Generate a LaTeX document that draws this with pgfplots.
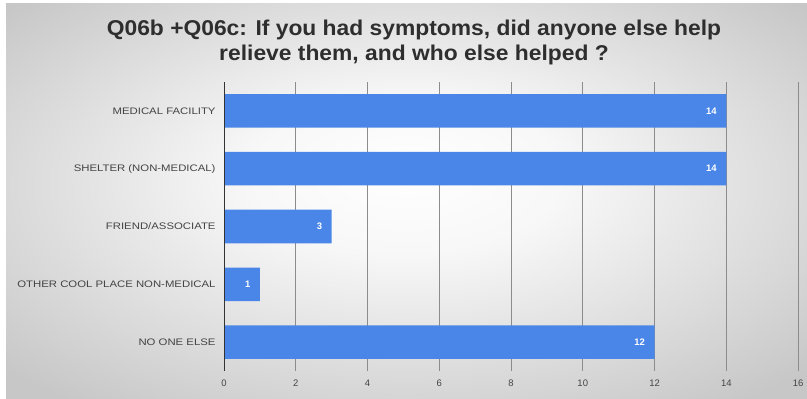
\documentclass[border=0pt]{standalone}
\usepackage{pgfplots}
\pgfplotsset{compat=1.18}
\usepackage{fontspec}
\setmainfont{Liberation Sans}
\definecolor{barblue}{HTML}{4A86E8}
\definecolor{labeltext}{HTML}{444444}
\definecolor{titletext}{HTML}{2E2E2E}
\pgfdeclareradialshading{panelshade}{\pgfpoint{0bp}{4bp}}{%
  color(0bp)=(white); color(10bp)=(white!97!black);
  color(34bp)=(black!22); color(50bp)=(black!22)}
\begin{document}
\begin{tikzpicture}
  \begin{scope}[x=1bp,y=1bp]
    \path[use as bounding box] (0,0) rectangle (807,398);
    % page and panel background
    \fill[white] (0,0) rectangle (807,398);
    \shade[shading=panelshade] (6,0) rectangle (807,394);
    % title, two lines
    \node[font=\bfseries\fontsize{21.5}{24}\selectfont, text=titletext, anchor=base, xscale=1.066]
      at (414,363) {Q06b +Q06c: If you had symptoms, did anyone else help};
    \node[font=\bfseries\fontsize{21.5}{24}\selectfont, text=titletext, anchor=base, xscale=1.066]
      at (414,338) {relieve them, and who else helped ?};
  \end{scope}
  \begin{axis}[
    at={(224bp,27bp)}, anchor=south west,
    width=574bp, height=289bp, scale only axis,
    xbar, bar width=0.58,
    xmin=0, xmax=16, ymin=-0.5, ymax=4.5,
    y dir=reverse,
    xtick={0,2,...,16},
    ytick={0,1,2,3,4},
    yticklabels={MEDICAL FACILITY, SHELTER (NON-MEDICAL), FRIEND/ASSOCIATE,
                 OTHER COOL PLACE NON-MEDICAL, NO ONE ELSE},
    axis line style={draw=none},
    tick style={draw=none},
    xmajorgrids,
    grid style={black!45, line width=0.6bp},
    /pgf/number format/assume math mode=true,
    xticklabel style={font=\fontsize{9.5}{10}\selectfont, text=labeltext, yshift=-5bp},
    yticklabel style={font=\fontsize{9.5}{11}\selectfont, text=labeltext, xscale=1.2},
    nodes near coords,
    every node near coord/.append style={anchor=east, xshift=-6bp,
      text=white, font=\bfseries\fontsize{9.5}{10}\selectfont},
  ]
    \addplot[fill=barblue, draw=none] coordinates {
      (14,0) (14,1) (3,2) (1,3) (12,4)
    };
    \draw[black!80, line width=1.5bp] (axis cs:0,-0.5) -- (axis cs:0,4.5);
  \end{axis}
\end{tikzpicture}
\end{document}
